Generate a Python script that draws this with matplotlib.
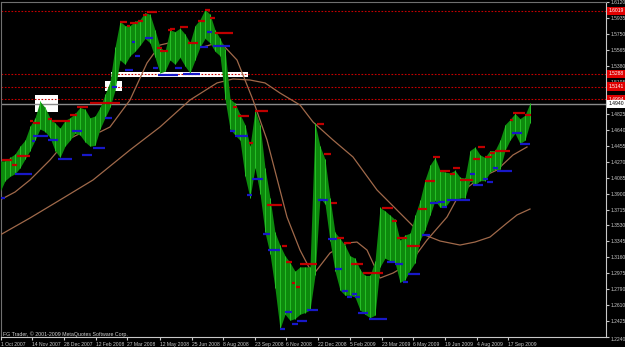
import matplotlib
matplotlib.use("Agg")
import matplotlib.pyplot as plt
import matplotlib.transforms as mtrans
from matplotlib.patches import Rectangle

plt.rcParams["font.family"] = ["Liberation Sans Narrow", "Liberation Sans", "DejaVu Sans"]

# daily bars, sampled every 5 bars: high / low
bar_x = list(range(0, 531, 5))
bar_high = [1.428, 1.428, 1.432, 1.436, 1.445, 1.452, 1.468, 1.478, 1.497, 1.490,
            1.478, 1.472, 1.466, 1.475, 1.478, 1.483, 1.490, 1.488, 1.478, 1.480,
            1.490, 1.505, 1.520, 1.560, 1.590, 1.585, 1.585, 1.590, 1.592, 1.600,
            1.598, 1.580, 1.560, 1.555, 1.580, 1.578, 1.582, 1.575, 1.565, 1.585,
            1.592, 1.6038, 1.598, 1.580, 1.570, 1.558, 1.500, 1.495, 1.482, 1.470,
            1.445, 1.487, 1.470, 1.420, 1.385, 1.345, 1.330, 1.318, 1.310, 1.300,
            1.305, 1.305, 1.305, 1.472, 1.445, 1.430, 1.385, 1.345, 1.338, 1.330,
            1.318, 1.315, 1.302, 1.295, 1.295, 1.312, 1.374, 1.370, 1.365, 1.360,
            1.336, 1.342, 1.344, 1.365, 1.382, 1.406, 1.423, 1.432, 1.417, 1.415,
            1.414, 1.417, 1.409, 1.408, 1.440, 1.444, 1.435, 1.432, 1.440, 1.440,
            1.452, 1.470, 1.476, 1.483, 1.477, 1.481, 1.495]
bar_low = [1.392, 1.405, 1.410, 1.413, 1.420, 1.430, 1.440, 1.452, 1.465, 1.462,
           1.455, 1.440, 1.432, 1.445, 1.452, 1.460, 1.458, 1.450, 1.445, 1.446,
           1.465, 1.478, 1.490, 1.510, 1.545, 1.540, 1.550, 1.555, 1.562, 1.570,
           1.565, 1.548, 1.530, 1.532, 1.545, 1.540, 1.548, 1.538, 1.530, 1.545,
           1.560, 1.570, 1.565, 1.555, 1.550, 1.500, 1.465, 1.458, 1.452, 1.410,
           1.385, 1.420, 1.390, 1.345, 1.320, 1.280, 1.233, 1.250, 1.243, 1.245,
           1.250, 1.252, 1.255, 1.295, 1.385, 1.378, 1.335, 1.300, 1.278, 1.272,
           1.272, 1.270, 1.255, 1.250, 1.246, 1.249, 1.305, 1.315, 1.312, 1.310,
           1.287, 1.290, 1.301, 1.310, 1.336, 1.348, 1.365, 1.382, 1.374, 1.374,
           1.382, 1.382, 1.385, 1.385, 1.405, 1.400, 1.405, 1.405, 1.415, 1.418,
           1.418, 1.440, 1.452, 1.460, 1.448, 1.452, 1.472]

# moving averages
ma_fast_x = [0, 15, 30, 50, 67, 87, 100, 110, 130, 147, 160, 173, 190, 203, 217, 223,
             237, 253, 267, 287, 300, 313, 330, 347, 357, 367, 380, 393, 410, 427,
             447, 460, 480, 497, 513, 527]
ma_fast = [1.3826, 1.3918, 1.4058, 1.4290, 1.4522, 1.4638, 1.4615, 1.4673, 1.4986,
           1.5416, 1.5624, 1.5659, 1.5590, 1.5601, 1.5648, 1.5624, 1.5450, 1.4986,
           1.4522, 1.3628, 1.3245, 1.2955, 1.3211, 1.3327, 1.3338, 1.3245, 1.2920,
           1.2978, 1.3094, 1.3361, 1.3628, 1.3907, 1.4081, 1.4174, 1.4348, 1.4441]
ma_slow_x = [0, 30, 60, 93, 130, 160, 190, 217, 233, 250, 265, 280, 300, 313, 333,
             353, 377, 397, 420, 440, 460, 475, 490, 507, 517, 530]
ma_slow = [1.3419, 1.3617, 1.3826, 1.4058, 1.4406, 1.4673, 1.4986, 1.5184, 1.5230,
           1.5218, 1.5184, 1.5067, 1.4928, 1.4731, 1.4522, 1.4325, 1.3942, 1.3709,
           1.3442, 1.3350, 1.3303, 1.3338, 1.3396, 1.3559, 1.3652, 1.3721]

# fractal marks: start bar, end bar, price
red_marks = [(2, 12, 1.4290), (12, 17, 1.4232), (17, 30, 1.4336), (30, 33, 1.4742),
             (33, 40, 1.4719), (48, 52, 1.4766), (52, 70, 1.4742), (70, 77, 1.4812),
             (77, 88, 1.4905), (90, 120, 1.4951), (120, 127, 1.5891), (127, 130, 1.5845),
             (130, 138, 1.5880), (138, 143, 1.5903), (143, 147, 1.5973), (147, 157, 1.6007),
             (157, 162, 1.5590), (160, 168, 1.5555), (168, 172, 1.5799), (170, 175, 1.5810),
             (180, 188, 1.5833), (188, 198, 1.5648), (198, 205, 1.5903), (205, 210, 1.6031),
             (210, 215, 1.5938), (215, 233, 1.5764), (233, 237, 1.4905), (238, 249, 1.4800),
             (249, 253, 1.4487), (255, 268, 1.4858), (267, 282, 1.3767), (282, 287, 1.3292),
             (286, 292, 1.3106), (292, 295, 1.2862), (296, 300, 1.2816), (300, 317, 1.3083),
             (317, 324, 1.4708), (324, 331, 1.4359), (331, 337, 1.3791), (337, 344, 1.3384),
             (344, 351, 1.3327), (351, 363, 1.3083), (363, 383, 1.2978), (382, 393, 1.3733),
             (392, 397, 1.3582), (397, 407, 1.3384), (407, 420, 1.3292), (418, 427, 1.3721),
             (425, 435, 1.4046), (433, 440, 1.4325), (440, 450, 1.4162), (450, 455, 1.4127),
             (453, 460, 1.4197), (460, 473, 1.4058), (473, 480, 1.4301), (478, 485, 1.4441),
             (485, 492, 1.4325), (490, 495, 1.4371), (495, 510, 1.4394), (510, 513, 1.4754),
             (513, 525, 1.4835), (525, 531, 1.4812)]
blue_marks = [(0, 5, 1.3849), (15, 32, 1.4127), (32, 35, 1.4510), (33, 48, 1.4568),
              (48, 58, 1.4522), (58, 72, 1.4301), (72, 82, 1.4626), (82, 92, 1.4348),
              (93, 105, 1.4429), (105, 112, 1.4777), (112, 117, 1.5137), (125, 133, 1.5334),
              (132, 135, 1.5659), (135, 140, 1.5497), (145, 153, 1.5706), (153, 158, 1.5358),
              (158, 178, 1.5276), (175, 182, 1.5358), (183, 200, 1.5288), (200, 208, 1.5601),
              (207, 212, 1.5775), (213, 230, 1.5613), (230, 235, 1.4626), (235, 248, 1.4568),
              (247, 252, 1.3884), (252, 263, 1.4069), (263, 270, 1.3431), (268, 280, 1.3245),
              (280, 285, 1.2328), (285, 292, 1.2526), (292, 298, 1.2386), (297, 307, 1.2421),
              (307, 318, 1.2549), (318, 328, 1.3826), (328, 337, 1.3373), (335, 342, 1.3025),
              (342, 348, 1.2769), (347, 352, 1.2700), (352, 357, 1.2735), (355, 360, 1.2700),
              (358, 368, 1.2514), (369, 387, 1.2444), (387, 395, 1.3106), (395, 403, 1.3083),
              (403, 408, 1.2874), (408, 420, 1.2967), (422, 430, 1.3419), (430, 438, 1.3791),
              (438, 445, 1.3802), (442, 447, 1.3744), (447, 457, 1.3826), (457, 470, 1.3826),
              (470, 475, 1.4127), (473, 483, 1.4000), (483, 488, 1.4069), (487, 493, 1.4034),
              (493, 498, 1.4197), (497, 512, 1.4162), (512, 522, 1.4603), (520, 530, 1.4476)]

# white zones drawn on the chart: start bar, end bar, low price, high price
zones = [(35, 58, 1.4847, 1.5044), (105, 122, 1.5091, 1.5207), (111, 248, 1.5253, 1.5311)]

levels = [1.6019, 1.5288, 1.5141, 1.4994]
level_labels = ["1.6019", "1.5288", "1.5141", "1.4994"]
bid = 1.4940
bid_label = "1.4940"

# 1.5010 sits under the red level labels, as in the original
price_ticks = [1.6120, 1.5935, 1.5750, 1.5565, 1.5380, 1.5195, 1.4825, 1.4640,
               1.4455, 1.4270, 1.4085, 1.3900, 1.3715, 1.3530, 1.3345, 1.3160, 1.2975,
               1.2790, 1.2610, 1.2425, 1.2240]
date_pos = [1, 32, 64, 96, 127, 160, 192, 223, 255, 286, 318, 350, 382, 413, 445, 477, 508]
date_labels = ["1 Oct 2007", "14 Nov 2007", "28 Dec 2007", "12 Feb 2008", "27 Mar 2008",
               "12 May 2008", "25 Jun 2008", "8 Aug 2008", "23 Sep 2008", "6 Nov 2008",
               "22 Dec 2008", "5 Feb 2009", "23 Mar 2009", "6 May 2009", "19 Jun 2009",
               "4 Aug 2009", "17 Sep 2009"]

fig = plt.figure(figsize=(6.25, 3.47), dpi=100, facecolor="black")
ax = fig.add_axes([1 / 625, 10 / 347, 605 / 625, 335.5 / 347], facecolor="black")
ax.set_xlim(1, 606)
ax.set_ylim(1.2236, 1.6129)

for x0, x1, lo, hi in zones:
    ax.add_patch(Rectangle((x0, lo), x1 - x0, hi - lo, facecolor="white",
                           edgecolor="none", zorder=1))

for lv in levels:
    ax.axhline(lv, color="#c80000", lw=0.8, ls=(0, (1.5, 1.5)), zorder=2)
ax.axhline(bid, color="#8a8a8a", lw=1.0, zorder=2)

ax.plot(ma_slow_x, ma_slow, color="#a0694a", lw=0.9, zorder=3)
ax.plot(ma_fast_x, ma_fast, color="#a0694a", lw=0.9, zorder=3)

ax.fill_between(bar_x, bar_low, bar_high, color="#0d8a0d", lw=0, zorder=4)
ax.vlines(bar_x, bar_low, bar_high, color="#26c026", lw=0.7, zorder=5)

for x0, x1, p in red_marks:
    ax.plot([x0, x1], [p, p], color="#c00000", lw=1.6, solid_capstyle="butt", zorder=6)
for x0, x1, p in blue_marks:
    ax.plot([x0, x1], [p, p], color="#1818c8", lw=1.6, solid_capstyle="butt", zorder=6)

# axes styling, MetaTrader look
for side in ["left", "top"]:
    ax.spines[side].set_color("#707070")
for side in ["right", "bottom"]:
    ax.spines[side].set_color("#c8c8c8")
ax.yaxis.tick_right()
ax.set_yticks(price_ticks)
ax.set_yticklabels([f"{v:.4f}" for v in price_ticks])
ax.tick_params(axis="y", colors="#c8c8c8", labelsize=3.6, length=2, pad=1)
ax.set_xticks(date_pos)
ax.set_xticklabels(date_labels)
ax.tick_params(axis="x", colors="#c8c8c8", labelsize=3.6, length=2, pad=1.5)
for t in ax.get_xticklabels():
    t.set_horizontalalignment("left")
# bottom price label sits below the frame line
ax.get_yticklabels()[-1].set_verticalalignment("top")

tr = mtrans.blended_transform_factory(ax.transAxes, ax.transData)
for lv, lab in zip(levels, level_labels):
    ax.text(1.004, lv, lab, transform=tr, ha="left", va="center", fontsize=3.6,
            color="white", clip_on=False, zorder=10,
            bbox=dict(boxstyle="square,pad=0.35", fc="#e00000", ec="none"))
ax.text(1.004, bid, bid_label, transform=tr, ha="left", va="center", fontsize=3.6,
        color="black", clip_on=False, zorder=10,
        bbox=dict(boxstyle="square,pad=0.35", fc="white", ec="none"))

fig.text(3 / 625, 1 - 334 / 347, "FG Trader, \u00a9 2001-2009 MetaQuotes Software Corp.",
         fontsize=3.8, color="#d0d0d0", va="center", ha="left")

fig.savefig("out.png", dpi=100, facecolor="black")
